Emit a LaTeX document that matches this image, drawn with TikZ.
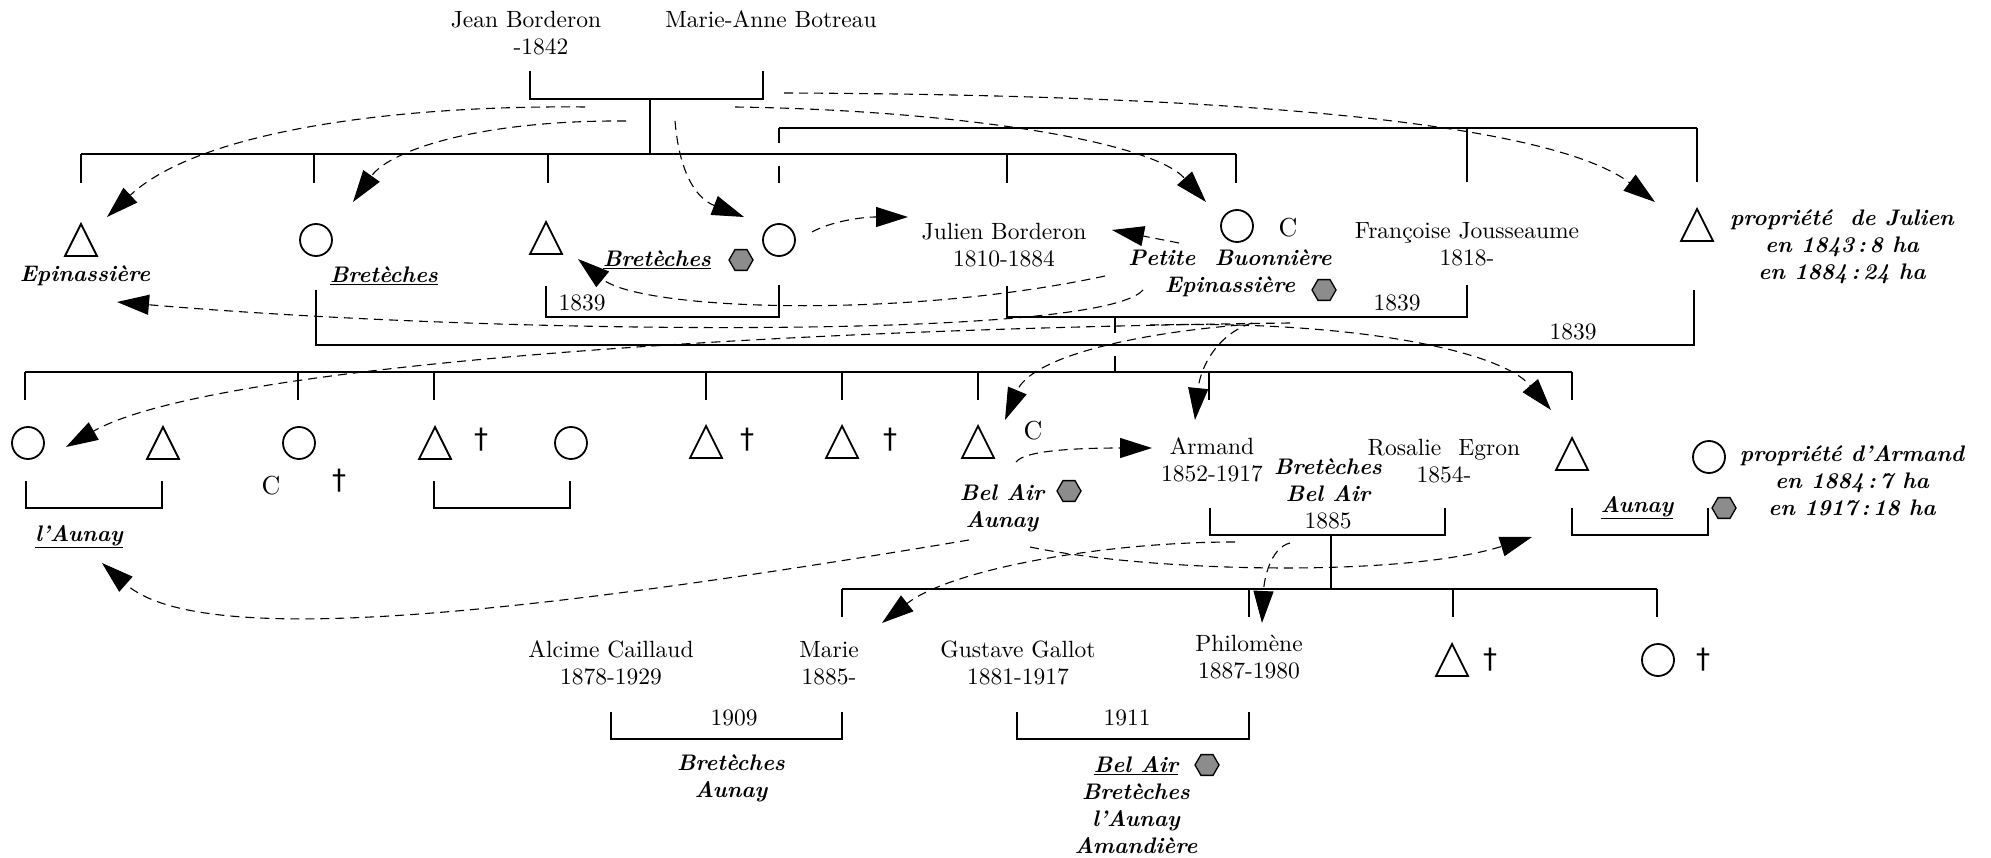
\documentclass[tikz,border=0pt]{standalone}
\usepackage{fontspec}
\setmainfont{lmroman10-regular}[Extension=.otf, BoldFont=lmroman10-bold, ItalicFont=lmroman10-italic, BoldItalicFont=lmroman10-bolditalic]
\newfontfamily\dejavu{DejaVu Sans}
\usetikzlibrary{shapes.geometric,arrows.meta}
\definecolor{hexgray}{gray}{0.55}
\tikzset{
  txt/.style={font=\fontsize{23.5}{27.5}\selectfont, align=center, inner sep=0pt},
  plc/.style={font=\fontsize{22.5}{27}\selectfont\bfseries\itshape, align=center, inner sep=0pt},
  circ/.style={draw, line width=1.8pt, circle, minimum size=32pt, inner sep=0pt},
  hex/.style={draw, line width=1.3pt, fill=hexgray, regular polygon, regular polygon sides=6, minimum size=24pt, inner sep=0pt},
  kin/.style={line width=2pt},
  prop/.style={dash pattern=on 9pt off 6pt, line width=1.1pt, -{Triangle[length=32pt,width=20pt]}},
  dag/.style={font=\dejavu\fontsize{28}{28}\selectfont, inner sep=0pt},
  cc/.style={font=\fontsize{26}{26}\selectfont, inner sep=0pt},
  pics/tri/.style={code={\draw[line width=1.8pt] (-16,16) -- (0,-16) -- (16,16) -- cycle;}}
}
\begin{document}
\begin{tikzpicture}[x=1pt,y=-1pt]
\useasboundingbox (0,0) rectangle (1991,858);

% ---------- generation 0
\node[txt] (jean) at (526,33) {Jean Borderon\\\hspace*{30pt}-1842};
\node[txt] (marieanne) at (771,19) {Marie-Anne Botreau};
\draw[kin] (530,71) -- (530,99) -- (763,99) -- (763,71);
\draw[kin] (650,99) -- (650,154);
\draw[kin] (81,154) -- (1236,154);
\foreach \x in {81,314,548,1007,1236} \draw[kin] (\x,154) -- (\x,183);
\draw[kin] (779,128) -- (1697,128);
\draw[kin] (779,128) -- (779,143);
\draw[kin] (779,166) -- (779,183);
\draw[kin] (1467,128) -- (1467,182);
\draw[kin] (1697,128) -- (1697,182);

% ---------- generation 1
\coordinate (t1) at (81,240); \pic at (t1) {tri};
\node[plc] (epilab) at (85,276) {Epinassière};
\node[circ] (c1) at (316,240) {};
\node[plc] (bretlab) at (384,276) {\underline{Bretèches}};
\coordinate (t2) at (546,238); \pic at (t2) {tri};
\node[plc] (bret2lab) at (657,260) {\underline{Bretèches}};
\node[hex] (hx1) at (741,260) {};
\node[circ] (c2) at (779,240) {};
\node[txt] (julien) at (1004,245) {Julien Borderon\\1810-1884};
\node[circ] (c3) at (1237,226) {};
\node[cc] (cC1) at (1288,228) {C};
\node[plc] (petite) at (1230,273) {Petite\hspace{0.45em} Buonnière\\Epinassière};
\node[hex] (hx2) at (1324,290) {};
\node[txt] (francoise) at (1467,244) {Françoise Jousseaume\\1818-};
\coordinate (t3) at (1697,225); \pic at (t3) {tri};
\node[plc] (propj) at (1842,247) {propriété\hspace{0.4em} de Julien\\en 1843\,:\,8 ha\\en 1884\,:\,24 ha};

\draw[kin] (546,286) -- (546,317) -- (779,317) -- (779,285);
\node[txt] (ya) at (582,303) {1839};
\draw[kin] (1007,286) -- (1007,317) -- (1467,317) -- (1467,285);
\node[txt] (yb) at (1397,303) {1839};
\draw[kin] (316,290) -- (316,345) -- (1694,345) -- (1694,290);
\node[txt] (yc) at (1573,332) {1839};
\draw[kin] (1115,317) -- (1115,333);
\draw[kin] (1115,356) -- (1115,372);

% ---------- generation 2
\draw[kin] (25,372) -- (1572,372);
\foreach \x in {25,298,434,706,842,978,1209,1572} \draw[kin] (\x,372) -- (\x,400);
\node[circ] (d1) at (28,443) {};
\coordinate (u1) at (163,443); \pic at (u1) {tri};
\draw[kin] (26,481) -- (26,508) -- (162,508) -- (162,481);
\node[plc] (launay) at (79,537) {\underline{l'Aunay}};
\node[circ] (d2) at (299,443) {};
\node[cc] (cC2) at (271,486) {C};
\node[dag] (dg1) at (339,481) {†};
\coordinate (u2) at (435,443); \pic at (u2) {tri};
\node[dag] (dg2) at (481,440) {†};
\node[circ] (d3) at (571,443) {};
\draw[kin] (434,481) -- (434,508) -- (570,508) -- (570,481);
\coordinate (u3) at (706,442); \pic at (u3) {tri};
\node[dag] (dg3) at (747,440) {†};
\coordinate (u4) at (842,442); \pic at (u4) {tri};
\node[dag] (dg4) at (890,440) {†};
\coordinate (u5) at (978,442); \pic at (u5) {tri};
\node[cc] (cC3) at (1033,431) {C};
\node[plc] (belair) at (1002,508) {Bel Air\\Aunay};
\node[hex] (hx3) at (1069,491) {};
\node[txt] (armand) at (1212,460) {Armand\\1852-1917};
\node[plc] (bretbel) at (1328,480) {Bretèches\\Bel Air};
\node[txt] (yd) at (1328,521) {1885};
\node[txt] (rosalie) at (1444,461) {Rosalie\hspace{0.4em} Egron\\1854-};
\draw[kin] (1210,508) -- (1210,535) -- (1445,535) -- (1445,508);
\draw[kin] (1331,535) -- (1331,589);
\coordinate (u6) at (1572,454); \pic at (u6) {tri};
\node[plc] (aunay) at (1637,508) {\underline{Aunay}};
\draw[kin] (1572,508) -- (1572,535) -- (1708,535) -- (1708,508);
\node[hex] (hx4) at (1724,508) {};
\node[circ] (d4) at (1709,457) {};
\node[plc] (propa) at (1852,481) {propriété d'Armand\\en 1884\,:\,7 ha\\en 1917\,:\,18 ha};

% ---------- generation 3
\draw[kin] (842,589) -- (1657,589);
\foreach \x in {842,1249,1453,1657} \draw[kin] (\x,589) -- (\x,617);
\node[txt] (alcime) at (611,663) {Alcime Caillaud\\1878-1929};
\node[txt] (marie) at (829,663) {Marie\\1885-};
\node[txt] (gustave) at (1018,663) {Gustave Gallot\\1881-1917};
\node[txt] (philo) at (1249,657) {Philomène\\1887-1980};
\coordinate (v1) at (1452,660); \pic at (v1) {tri};
\node[dag] (dg5) at (1490,660) {†};
\node[circ] (e1) at (1658,660) {};
\node[dag] (dg6) at (1703,660) {†};
\draw[kin] (611,712) -- (611,739) -- (842,739) -- (842,712);
\node[txt] (ye) at (734,718) {1909};
\draw[kin] (1017,712) -- (1017,739) -- (1249,739) -- (1249,712);
\node[txt] (yf) at (1127,718) {1911};
\node[plc] (bretaun) at (731,778) {Bretèches\\Aunay};
\node[plc] (belair2) at (1136,805) {\underline{Bel Air}\\Bretèches\\l'Aunay\\Amandière};
\node[hex] (hx5) at (1207,765) {};

% ---------- property arrows
\coordinate (s1) at (585,107); \coordinate (e1a) at (107,217);
\draw[prop] (s1) .. controls (400,105) and (200,130) .. (e1a);
\coordinate (s2) at (626,121); \coordinate (e2) at (353,202);
\draw[prop] (s2) .. controls (480,120) and (390,150) .. (e2);
\coordinate (s3) at (675,121); \coordinate (e3) at (744,217);
\draw[prop] (s3) .. controls (680,180) and (700,200) .. (e3);
\coordinate (s4) at (735,107); \coordinate (e4) at (1206,202);
\draw[prop] (s4) .. controls (950,110) and (1150,140) .. (e4);
\coordinate (s5) at (784,93); \coordinate (e5) at (1655,202);
\draw[prop] (s5) .. controls (1300,95) and (1560,130) .. (e5);
\coordinate (s6) at (812,232); \coordinate (e6) at (908,217);
\draw[prop] (s6) .. controls (830,222) and (860,217) .. (e6);
\coordinate (s7) at (1179,243); \coordinate (e7) at (1112,230);
\draw[prop] (s7) -- (e7);
\coordinate (s8) at (1105,276); \coordinate (e8) at (578,259);
\draw[prop] (s8) .. controls (900,320) and (640,310) .. (e8);
\coordinate (s9) at (1143,290); \coordinate (e9) at (117,302);
\draw[prop] (s9) .. controls (1100,340) and (500,335) .. (e9);
\coordinate (s10) at (1290,323); \coordinate (e10) at (66,447);
\draw[prop] (s10) .. controls (700,330) and (200,370) .. (e10);
\coordinate (s11) at (1240,325); \coordinate (e11) at (1005,420);
\draw[prop] (s11) .. controls (1120,335) and (1030,360) .. (e11);
\coordinate (s12) at (1252,323); \coordinate (e12) at (1195,420);
\draw[prop] (s12) .. controls (1215,335) and (1200,370) .. (e12);
\coordinate (s13) at (1150,325); \coordinate (e13) at (1551,410);
\draw[prop] (s13) .. controls (1350,320) and (1500,350) .. (e13);
\coordinate (s14) at (1016,462); \coordinate (e14) at (1152,448);
\draw[prop] (s14) .. controls (1025,450) and (1080,448) .. (e14);
\coordinate (s15) at (969,540); \coordinate (e15) at (102,563);
\draw[prop] (s15) .. controls (520,615) and (200,650) .. (e15);
\coordinate (s16) at (1030,547); \coordinate (e16) at (1532,537);
\draw[prop] (s16) .. controls (1150,572) and (1400,578) .. (e16);
\coordinate (s17) at (1235,542); \coordinate (e17) at (882,623);
\draw[prop] (s17) .. controls (1100,542) and (950,570) .. (e17);
\coordinate (s18) at (1290,543); \coordinate (e18) at (1262,623);
\draw[prop] (s18) .. controls (1270,548) and (1264,580) .. (e18);
\end{tikzpicture}
\end{document}
